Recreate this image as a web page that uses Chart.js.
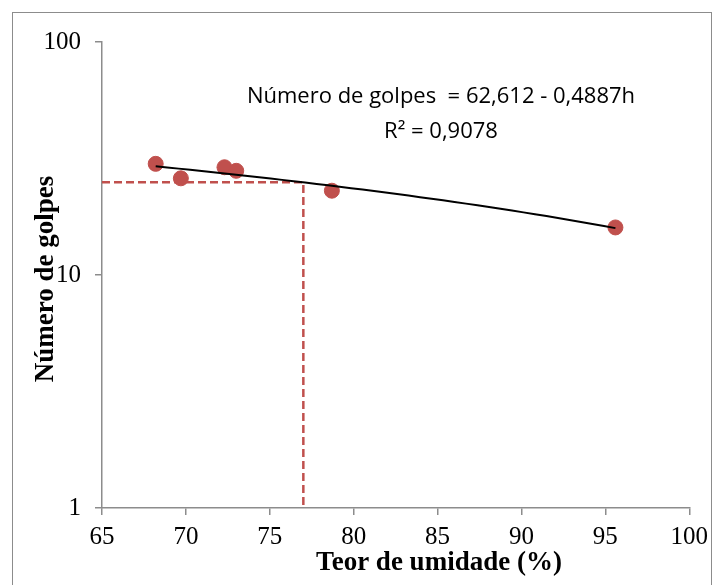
<!DOCTYPE html>
<html>
<head>
<meta charset="utf-8">
<script src="https://cdn.jsdelivr.net/npm/chart.js@4.4.1/dist/chart.umd.min.js"></script>
<style>
    body { margin: 0; background: #fff; }
    .wrap { position: relative; width: 715px; height: 585px; overflow: hidden; }
    .frame { position: absolute; left: 12px; top: 12px; width: 700px; height: 620px; border: 1px solid #8c8c8c; box-sizing: border-box; }
    canvas { position: absolute; left: 0; top: 0; }
</style>
</head>
<body>
<div class="wrap">
    <div class="frame"></div>
    <canvas id="chart" width="715" height="585"></canvas>
</div>
<script>
// Dados
const teorUmidade = [68.2, 69.7, 72.3, 73.0, 78.7, 95.6];
const numeroGolpes = [30, 26, 29, 28, 23, 16];
const xTicks = [65, 70, 75, 80, 85, 90, 95, 100];
const yTicks = [1, 10, 100];

// Linha de tendência do Excel: N = 62,612 - 0,4887h
const coefA = 62.612;
const coefB = 0.4887;

// Linha tracejada (25 golpes -> h = 77)
const refX = [65, 77, 77];
const refY = [25, 25, 1];

const pontos = teorUmidade.map((h, i) => ({ x: h, y: numeroGolpes[i] }));

const hMin = Math.min(...teorUmidade);
const hMax = Math.max(...teorUmidade);
const tendencia = [];
for (let k = 0; k <= 40; k++) {
    const h = hMin + (hMax - hMin) * k / 40;
    tendencia.push({ x: h, y: coefA - coefB * h });
}

const referencia = refX.map((x, i) => ({ x: x, y: refY[i] }));

const serif = "'Liberation Serif', 'Times New Roman', serif";

// Textos extras (títulos dos eixos e equação)
const textosPlugin = {
    id: 'textos',
    afterDraw(chart) {
        const ctx = chart.ctx;
        ctx.save();
        ctx.fillStyle = '#000';
        ctx.textAlign = 'center';
        ctx.textBaseline = 'middle';

        ctx.font = "bold 27px " + serif;
        ctx.fillText('Teor de umidade (%)', 439, 563);

        ctx.translate(46, 279);
        ctx.rotate(-Math.PI / 2);
        ctx.fillText('Número de golpes', 0, 0);
        ctx.setTransform(1, 0, 0, 1, 0, 0);

        ctx.font = "22px 'Open Sans', sans-serif";
        ctx.fillText('Número de golpes  = 62,612 - 0,4887h', 441, 97);
        ctx.fillText('R² = 0,9078', 441, 132);
        ctx.restore();
    }
};

const ctx = document.getElementById('chart').getContext('2d');
const chart = new Chart(ctx, {
    type: 'scatter',
    data: {
        datasets: [
            {
                label: 'Tendência',
                data: tendencia,
                showLine: true,
                borderColor: '#000',
                borderWidth: 2,
                pointRadius: 0,
                order: 0
            },
            {
                label: 'Número de golpes',
                data: pontos,
                backgroundColor: '#C0504D',
                borderColor: '#C0504D',
                pointRadius: 7.5,
                order: 1
            },
            {
                label: 'Referência',
                data: referencia,
                showLine: true,
                borderColor: '#C0504D',
                borderWidth: 2.5,
                borderDash: [8, 4],
                pointRadius: 0,
                order: 2
            }
        ]
    },
    options: {
        responsive: false,
        animation: false,
        layout: { padding: { left: 0, top: 42, right: 24, bottom: 0 } },
        plugins: {
            legend: { display: false },
            tooltip: { enabled: false }
        },
        scales: {
            x: {
                type: 'linear',
                min: 65,
                max: 100,
                afterBuildTicks: (scale) => { scale.ticks = xTicks.map(v => ({ value: v })); },
                afterFit: (scale) => { scale.height = 77; },
                grid: { drawOnChartArea: false, tickLength: 7, color: '#8c8c8c', lineWidth: 1.5 },
                border: { color: '#8c8c8c', width: 1.5 },
                ticks: {
                    color: '#000',
                    font: { family: serif, size: 25 },
                    padding: 7,
                    maxRotation: 0
                }
            },
            y: {
                type: 'logarithmic',
                min: 1,
                max: 100,
                afterBuildTicks: (scale) => { scale.ticks = yTicks.map(v => ({ value: v })); },
                afterFit: (scale) => { scale.width = 102; },
                grid: { drawOnChartArea: false, tickLength: 7, color: '#8c8c8c', lineWidth: 1.5 },
                border: { color: '#8c8c8c', width: 1.5 },
                ticks: {
                    color: '#000',
                    font: { family: serif, size: 25 },
                    padding: 14,
                    callback: (v) => String(v)
                }
            }
        }
    },
    plugins: [textosPlugin]
});
</script>
</body>
</html>
